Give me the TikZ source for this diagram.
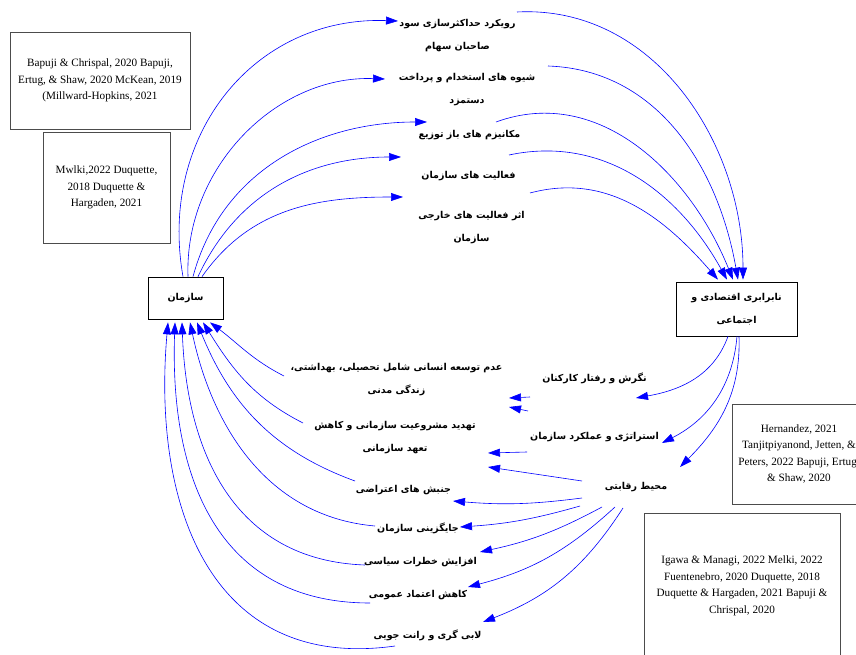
\documentclass[tikz,border=0pt]{standalone}
\usepackage{fontspec}
\setmainfont{Liberation Serif}
\newfontfamily\farsi[Script=Arabic]{DejaVu Sans}
\TeXXeTstate=1
\newcommand{\rtltxt}[1]{\beginR#1\endR}
\usetikzlibrary{arrows.meta,positioning}

\begin{document}
\begin{tikzpicture}[x=1pt,y=1pt,
    varbox/.style={draw, line width=0.7pt, font=\farsi\bfseries\fontsize{9.5}{23}\selectfont, align=center, inner sep=0pt},
    var/.style={font=\farsi\bfseries\fontsize{9.5}{23}\selectfont, align=center, inner sep=0pt},
    refbox/.style={draw=black!70, line width=0.7pt, font=\fontsize{11.2}{16.5}\selectfont, align=center, inner sep=0pt},
    link/.style={draw=blue, line width=0.6pt, -{Triangle[length=12pt,width=8pt]}}]
    \useasboundingbox (0,0) rectangle (856,654);

    % main boxes
    \node[varbox, minimum width=75pt, minimum height=42pt] (org) at (185.5,356) {\rtltxt{سازمان}};
    \node[varbox, minimum width=121pt, minimum height=54pt] (ineq) at (736.5,345) {\rtltxt{نابرابری اقتصادی و}\\\rtltxt{اجتماعی}};

    % sources
    \node[refbox, minimum width=180pt, minimum height=97pt] (ref1) at (100,573.5) {Bapuji \& Chrispal, 2020 Bapuji,\\Ertug, \& Shaw, 2020 McKean, 2019\\(Millward-Hopkins, 2021};
    \node[refbox, minimum width=127pt, minimum height=111pt] (ref2) at (106.5,466.5) {Mwlki,2022 Duquette,\\2018 Duquette \&\\Hargaden, 2021};
    \node[refbox, minimum width=134pt, minimum height=100pt] (ref3) at (799,200) {Hernandez, 2021\\Tanjitpiyanond, Jetten, \&\\Peters, 2022 Bapuji, Ertug,\\\& Shaw, 2020};
    \node[refbox, minimum width=196pt, minimum height=146pt] (ref4) at (742,68) {Igawa \& Managi, 2022 Melki, 2022\\Fuentenebro, 2020 Duquette, 2018\\Duquette \& Hargaden, 2021 Bapuji \&\\Chrispal, 2020};

    % upper variables
    \node[var] (lab1) at (457.5,618.5) {\rtltxt{رویکرد حداکثرسازی سود}\\\rtltxt{صاحبان سهام}};
    \node[var] (lab2) at (467,564) {\rtltxt{شیوه های استخدام و پرداخت}\\\rtltxt{دستمزد}};
    \node[var] (lab3) at (469.5,519) {\rtltxt{مکانیزم های باز توزیع}};
    \node[var] (lab4) at (468.5,478) {\rtltxt{فعالیت های سازمان}};
    \node[var] (lab5) at (471.5,426) {\rtltxt{اثر فعالیت های خارجی}\\\rtltxt{سازمان}};

    % lower variables
    \node[var] (nagaresh) at (594.5,276) {\rtltxt{نگرش و رفتار کارکنان}};
    \node[var] (strat) at (594.5,217) {\rtltxt{استراتژی و عملکرد سازمان}};
    \node[var] (mohit) at (636,167) {\rtltxt{محیط رقابتی}};
    \node[var] (adam) at (396.5,274.5) {\rtltxt{عدم توسعه انسانی شامل تحصیلی، بهداشتی،}\\\rtltxt{زندگی مدنی}};
    \node[var] (tahdid) at (395,216.5) {\rtltxt{تهدید مشروعیت سازمانی و کاهش}\\\rtltxt{تعهد سازمانی}};
    \node[var] (jonbesh) at (403.5,164) {\rtltxt{جنبش های اعتراضی}};
    \node[var] (jaygozini) at (418,126) {\rtltxt{جایگزینی سازمان}};
    \node[var] (afzayesh) at (420.5,92) {\rtltxt{افزایش خطرات سیاسی}};
    \node[var] (kahesh) at (418,59) {\rtltxt{کاهش اعتماد عمومی}};
    \node[var] (labi) at (427.5,19) {\rtltxt{لابی گری و رانت جویی}};

    % org -> upper variables
    \draw[link] ([xshift=-2.5pt]org.north) to[out=100,in=178,looseness=1.1] ([shift={(-59.5,14.5)}]lab1.center);
    \draw[link] ([xshift=2.5pt]org.north) to[out=92,in=178] ([shift={(-82,11)}]lab2.center);
    \draw[link] ([xshift=7.5pt]org.north) to[out=75,in=180] ([shift={(-42.5,13)}]lab3.center);
    \draw[link] ([xshift=12.5pt]org.north) to[out=65,in=180] ([shift={(-67.5,19)}]lab4.center);
    \draw[link] ([xshift=16.5pt]org.north) to[out=55,in=180] ([shift={(-68.5,31)}]lab5.center);

    % upper variables -> inequality
    \draw[link] ([shift={(59.5,23.5)}]lab1.center) to[out=3,in=90] ([shift={(6.5,2)}]ineq.north);
    \draw[link] ([shift={(81,24)}]lab2.center) to[out=-2,in=100] ([shift={(1.5,2)}]ineq.north);
    \draw[link] ([shift={(26.5,13)}]lab3.center) to[out=20,in=112] ([shift={(-3.5,2)}]ineq.north);
    \draw[link] ([shift={(40.5,21)}]lab4.center) to[out=12,in=119] ([shift={(-9.5,2)}]ineq.north);
    \draw[link] ([shift={(58.5,35)}]lab5.center) to[out=15,in=131] ([shift={(-18.5,2)}]ineq.north);

    % inequality -> lower right
    \draw[link] ([xshift=-8.5pt]ineq.south) to[out=-110,in=10] ([shift={(41.5,-20)}]nagaresh.center);
    \draw[link] ([xshift=0.5pt]ineq.south) to[out=-95,in=27] ([shift={(67.5,-6)}]strat.center);
    \draw[link] ([xshift=2.5pt]ineq.south) to[out=-88,in=45] ([shift={(44,20)}]mohit.center);

    % middle links
    \draw[link] ([shift={(-64.5,-19)}]nagaresh.center) -- ([shift={(112.5,-18.5)}]adam.center);
    \draw[link] ([shift={(-66.5,-33)}]nagaresh.center) -- ([shift={(114,30.5)}]tahdid.center);
    \draw[link] ([shift={(-67.5,-15)}]strat.center) -- ([shift={(93,-15.5)}]tahdid.center);
    \draw[link] ([shift={(-54,6)}]mohit.center) -- ([shift={(93,-29.5)}]tahdid.center);
    \draw[link] ([shift={(-54,-11)}]mohit.center) to[bend left=6] ([shift={(49.5,-11)}]jonbesh.center);
    \draw[link] ([shift={(-56,-19)}]mohit.center) to[bend left=6] ([shift={(42,1)}]jaygozini.center);
    \draw[link] ([shift={(-34,-20)}]mohit.center) to[bend left=8] ([shift={(59.5,10)}]afzayesh.center);
    \draw[link] ([shift={(-21,-20)}]mohit.center) to[bend left=14] ([shift={(50,8)}]kahesh.center);
    \draw[link] ([shift={(-13,-21)}]mohit.center) to[bend left=18] ([shift={(55.5,13)}]labi.center);

    % lower variables -> org
    \draw[link] ([shift={(-112.5,3.5)}]adam.center) to[out=153,in=-37] ([shift={(24.5,-3)}]org.south);
    \draw[link] ([shift={(-92,14.5)}]tahdid.center) to[out=153,in=-58] ([shift={(17.5,-3)}]org.south);
    \draw[link] ([shift={(-48.5,9)}]jonbesh.center) to[out=160,in=-68] ([shift={(11.5,-3)}]org.south);
    \draw[link] ([shift={(-43,2)}]jaygozini.center) to[out=175,in=-78] ([shift={(4.5,-3)}]org.south);
    \draw[link] ([shift={(-55.5,-3)}]afzayesh.center) to[out=178,in=-88,looseness=1.1] ([shift={(-3.5,-3)}]org.south);
    \draw[link] ([shift={(-48,-8)}]kahesh.center) to[out=180,in=-92,looseness=1.15] ([shift={(-10.5,-3)}]org.south);
    \draw[link] ([shift={(-32.5,-11)}]labi.center) to[out=188,in=-95,looseness=1.2] ([shift={(-17.5,-3)}]org.south);
\end{tikzpicture}
\end{document}
